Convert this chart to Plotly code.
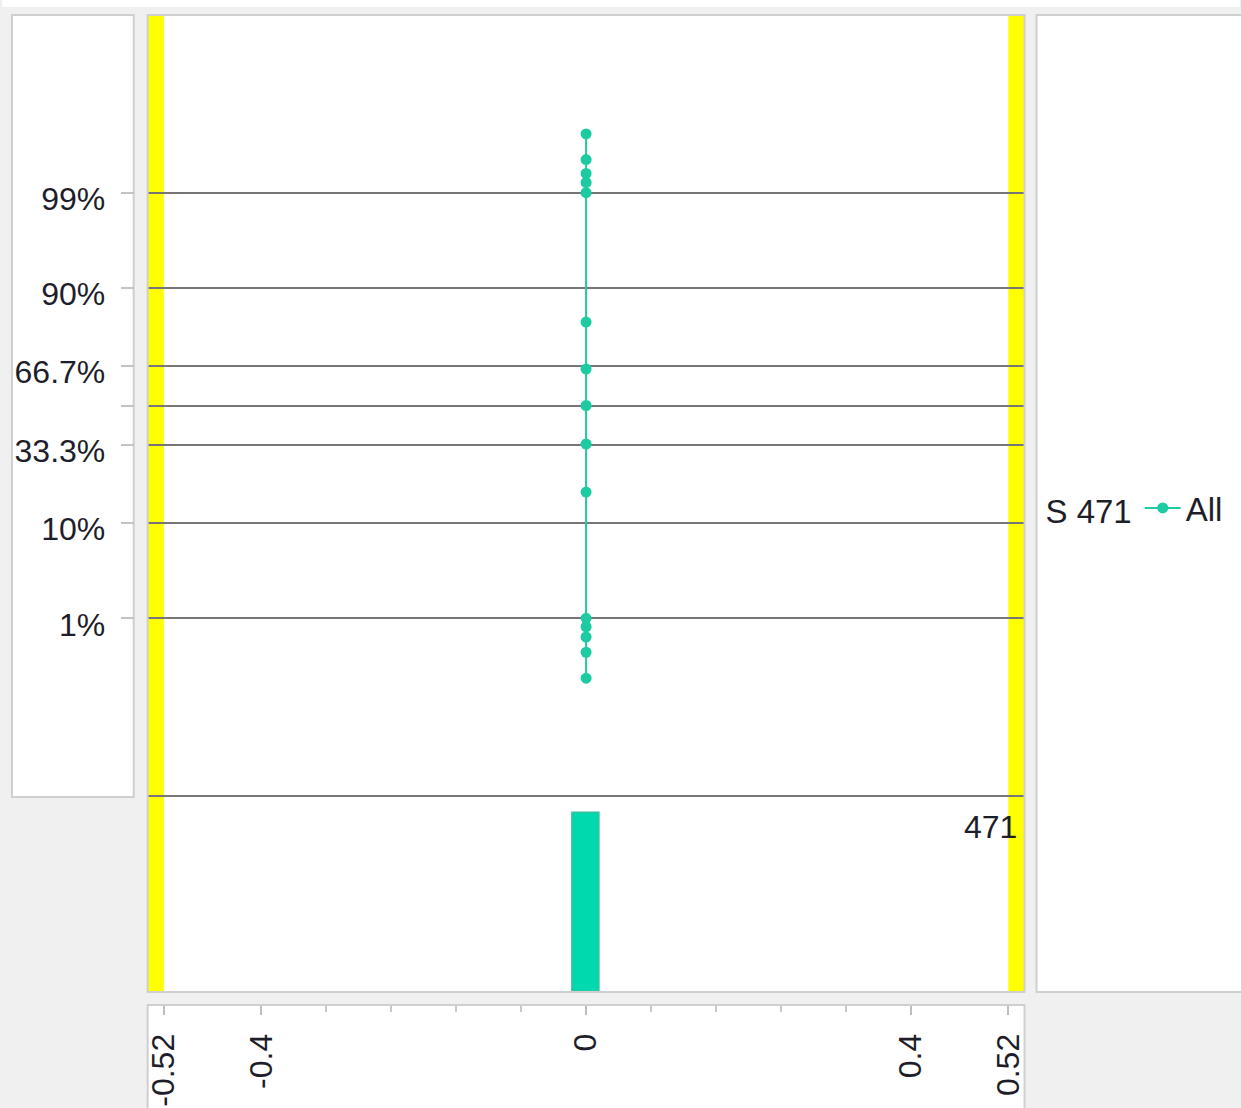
from statistics import NormalDist
import plotly.graph_objects as go

# ---- data -------------------------------------------------------------
# probability-plot points: cumulative probability and measured value
point_probs = [0.00144, 0.0035, 0.0057, 0.0078, 0.0100, 0.172, 0.337, 0.500,
               0.655, 0.819, 0.9900, 0.9926, 0.9944, 0.9964, 0.9985]
point_values = [0, 0, 0, 0, 0, 0, 0, 0, 0, 0, 0, 0, 0, 0, 0]

# histogram of the same measurements
hist_bins = [0.0]
hist_counts = [471]

# spec limits (lower / upper)
spec_limits = [-0.52, 0.52]

# axis ticks
prob_ticks = [0.01, 0.10, 0.333, 0.50, 0.667, 0.90, 0.99]
prob_tick_text = ["1%", "10%", "33.3%", "", "66.7%", "90%", "99%"]
x_tick_vals = [-0.52, -0.4, 0, 0.4, 0.52]
x_tick_text = ["-0.52", "-0.4", "0", "0.4", "0.52"]
x_minor_vals = [-0.32, -0.24, -0.16, -0.08, 0.08, 0.16, 0.24, 0.32]

series_name = "All"
group_label = "S"

# ---- helpers ----------------------------------------------------------
W, H = 1241, 1108
nd = NormalDist()


def fx(p):
    return p / W


def fy(p):
    return 1 - p / H


FONT = "Liberation Sans, Arial, sans-serif"
TXT = "#1e1e2a"
TEAL = "#1ccba2"
BORDER = "#cfcfcf"
GRID = "#767676"
XR = [-0.54, 0.54]
ZR = [-4.268, 4.268]

fig = go.Figure()

# probability plot (normal-quantile scale)
fig.add_trace(go.Scatter(
    x=point_values,
    y=[nd.inv_cdf(p) for p in point_probs],
    mode="lines+markers",
    line=dict(color=TEAL, width=2),
    marker=dict(color=TEAL, size=11),
    name=series_name,
    xaxis="x", yaxis="y",
    showlegend=True,
))

# histogram
fig.add_trace(go.Bar(
    x=hist_bins, y=hist_counts, width=0.033,
    marker=dict(color="#00d9ad", line=dict(color="#36bf9c", width=1.5)),
    xaxis="x2", yaxis="y2", showlegend=False,
))

shapes = []
# white strip along the very top
shapes.append(dict(type="rect", xref="paper", yref="paper", x0=0, x1=1,
                   y0=fy(7), y1=1, fillcolor="white", line_width=0, layer="below"))
# panels
for (x0, y0, x1, y1) in [(10, 15, 132, 797), (1037, 15, 1250, 992),
                         (146, 1005, 1025, 1120)]:
    shapes.append(dict(type="rect", xref="paper", yref="paper",
                       x0=fx(x0), x1=fx(x1), y0=fy(y1), y1=fy(y0),
                       fillcolor="white", line=dict(color=BORDER, width=2),
                       layer="below"))
# out-of-spec bands
shapes.append(dict(type="rect", xref="x", yref="paper", x0=XR[0], x1=spec_limits[0],
                   y0=fy(992), y1=fy(15), fillcolor="#ffff00", line_width=0, layer="below"))
shapes.append(dict(type="rect", xref="x", yref="paper", x0=spec_limits[1], x1=XR[1],
                   y0=fy(992), y1=fy(15), fillcolor="#ffff00", line_width=0, layer="below"))
# separator between probability plot and histogram
shapes.append(dict(type="line", xref="paper", yref="paper", x0=fx(146), x1=fx(1025),
                   y0=fy(796), y1=fy(796), line=dict(color=GRID, width=2)))
# main panel frame
shapes.append(dict(type="rect", xref="paper", yref="paper", x0=fx(146), x1=fx(1025),
                   y0=fy(992), y1=fy(15), line=dict(color=BORDER, width=2),
                   fillcolor="rgba(0,0,0,0)", layer="above"))

fig.update_layout(
    width=W, height=H,
    margin=dict(l=0, r=0, t=0, b=0),
    paper_bgcolor="#f0f0f0",
    plot_bgcolor="white",
    font=dict(family=FONT, size=32, color=TXT),
    shapes=shapes,
    bargap=0,
    xaxis=dict(domain=[fx(146), fx(1025)], range=XR, anchor="y",
               showgrid=False, zeroline=False, showticklabels=False, ticks="",
               showline=False),
    yaxis=dict(domain=[fy(796), fy(15)], range=ZR, anchor="free", position=fx(132),
               tickmode="array", tickvals=[nd.inv_cdf(p) for p in prob_ticks],
               ticktext=prob_tick_text, ticks="outside", ticklen=13, tickwidth=2,
               tickcolor="#c4c4c4", ticklabelstandoff=9, ticklabelshift=6,
               showgrid=True, gridcolor=GRID, gridwidth=2, zeroline=False,
               showline=False),
    xaxis2=dict(domain=[fx(146), fx(1025)], range=XR, anchor="free", position=fy(1005),
                tickmode="array", tickvals=x_tick_vals, ticktext=x_tick_text,
                tickangle=-90, ticks="outside", ticklen=9, tickwidth=2,
                tickcolor="#bdbdbd", ticklabelstandoff=6,
                minor=dict(tickmode="array", tickvals=x_minor_vals, ticks="outside",
                           ticklen=6, tickwidth=2, tickcolor="#c8c8c8"),
                showgrid=False, zeroline=False, showline=False),
    yaxis2=dict(domain=[fy(992), fy(796)], range=[0, 516], anchor="x2",
                visible=False),
    legend=dict(x=fx(1044), y=fy(508), xanchor="left", yanchor="middle",
                bgcolor="rgba(0,0,0,0)", font=dict(size=33, color=TXT),
                title=dict(text=f"{group_label} {sum(hist_counts)}", side="left",
                           font=dict(size=33, color=TXT)),
                itemwidth=36),
    annotations=[dict(text=str(max(hist_counts)), xref="paper", yref="paper",
                      x=fx(1019), y=fy(827), xanchor="right", yanchor="middle",
                      showarrow=False, font=dict(size=32, color=TXT))],
)

fig.write_html("out.html")
